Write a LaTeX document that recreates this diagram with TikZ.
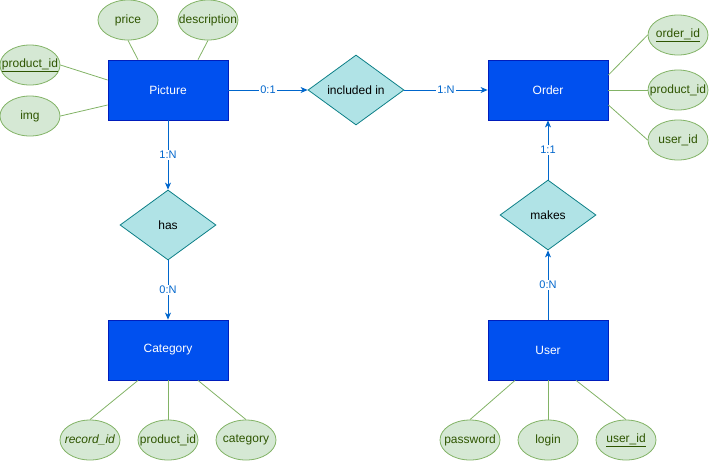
\documentclass[tikz,border=0pt]{standalone}
\usepackage{fontspec}
\setmainfont{Liberation Sans}
\usepackage{tikz}
\usetikzlibrary{shapes.geometric, arrows.meta}

\definecolor{entfill}{HTML}{0050EF}
\definecolor{entline}{HTML}{001DBC}
\definecolor{relfill}{HTML}{B0E3E6}
\definecolor{relline}{HTML}{0E8088}
\definecolor{attfill}{HTML}{D5E8D4}
\definecolor{attline}{HTML}{82B366}
\definecolor{atttext}{HTML}{2E5500}
\definecolor{arrline}{HTML}{0066CC}

\begin{document}
\begin{tikzpicture}[x=1pt, y=-1pt,
  entity/.style={draw=entline, fill=entfill, line width=0.8pt, minimum width=120pt, minimum height=60pt, inner sep=0pt, text=white, font=\fontsize{12}{14}\selectfont},
  relation/.style={diamond, draw=relline, fill=relfill, line width=0.8pt, minimum width=96pt, minimum height=70pt, inner sep=0pt, font=\fontsize{12}{14}\selectfont},
  attr/.style={ellipse, draw=attline, fill=attfill, line width=0.8pt, minimum width=60pt, minimum height=40pt, inner sep=0pt, text=atttext, font=\fontsize{12}{14}\selectfont},
  link/.style={draw=attline, line width=0.8pt},
  rel/.style={draw=arrline, line width=0.8pt, -{Stealth[length=7pt, width=6pt, inset=2pt]}},
  card/.style={fill=white, text=arrline, inner sep=1pt, font=\fontsize{11}{13}\selectfont}]
\useasboundingbox (0,0) rectangle (709,461);

\node[entity] (pic) at (168,90) {Picture};
\node[entity] (ord) at (548,90) {Order};
\node[entity] (cat) at (168,350) {Category};
\node[entity] (usr) at (548,350) {User};
\node[relation] (incl) at (356,90) {included in};
\node[relation] (has) at (168,225) {has};
\node[relation] (makes) at (548,215) {makes};

\node[attr] (pprice) at (128,20) {\makebox[0pt]{price}};
\node[attr] (pdesc) at (208,20) {\makebox[0pt]{description}};
\node[attr] (ppid) at (30,65) {\makebox[0pt]{\underline{product\_id}}};
\node[attr] (pimg) at (30,116) {\makebox[0pt]{img}};
\node[attr] (oid) at (678,35) {\makebox[0pt]{\underline{order\_id}}};
\node[attr] (opid) at (678,90) {\makebox[0pt]{product\_id}};
\node[attr] (ouid) at (678,140) {\makebox[0pt]{user\_id}};
\node[attr] (crid) at (90,440) {\makebox[0pt]{\textit{record\_id}}};
\node[attr] (cpid) at (168,440) {\makebox[0pt]{product\_id}};
\node[attr] (ccat) at (246,440) {\makebox[0pt]{category}};
\node[attr] (upass) at (470,440) {\makebox[0pt]{password}};
\node[attr] (ulogin) at (548,440) {\makebox[0pt]{login}};
\node[attr] (uuid) at (626,440) {\makebox[0pt]{\underline{user\_id}}};

\draw[link] (pprice.south) -- ([xshift=-30pt]pic.north);
\draw[link] (pdesc.south) -- ([xshift=30pt]pic.north);
\draw[link] (ppid.east) -- ([yshift=10pt]pic.west);
\draw[link] (pimg.east) -- ([yshift=-15pt]pic.west);
\draw[link] (oid.west) -- ([yshift=15pt]ord.east);
\draw[link] (opid.west) -- (ord.east);
\draw[link] (ouid.west) -- ([yshift=-15pt]ord.east);
\draw[link] (crid.north) -- ([xshift=-30pt]cat.south);
\draw[link] (cpid) -- (cat);
\draw[link] (ccat.north) -- ([xshift=30pt]cat.south);
\draw[link] (upass.north) -- ([xshift=-33pt]usr.south);
\draw[link] (ulogin) -- (usr);
\draw[link] (uuid.north) -- ([xshift=28pt]usr.south);

\draw[rel] (pic) -- node[card] {0:1} (incl);
\draw[rel] (incl) -- node[card] {1:N} (ord);
\draw[rel] (pic) -- node[card] {1:N} (has);
\draw[rel] (has) -- node[card] {0:N} (cat);
\draw[rel] (usr) -- node[card] {0:N} (makes);
\draw[rel] (makes) -- node[card] {1:1} (ord);
\end{tikzpicture}
\end{document}
